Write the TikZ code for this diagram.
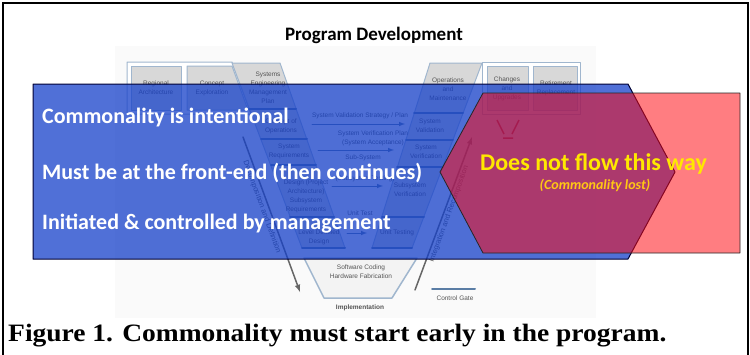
\documentclass[tikz,border=0pt]{standalone}
\usepackage{fontspec}
\setmainfont{Carlito}
\newfontfamily\figfont{Liberation Serif}
\newfontfamily\vfont{Liberation Sans}
\usepackage{tkz-euclide}

\definecolor{boxgray}{RGB}{216,216,216}
\definecolor{framebl}{RGB}{160,182,206}
\definecolor{gatebl}{RGB}{90,125,165}
\definecolor{vtext}{RGB}{85,85,85}
\definecolor{overblue}{RGB}{21,64,201}
\definecolor{overred}{RGB}{255,10,17}
\definecolor{flowyel}{RGB}{255,232,0}
\definecolor{lostyel}{RGB}{255,200,20}

\tikzset{
  vlbl/.style={font=\vfont\fontsize{6.5}{9}\selectfont, text=vtext, align=center, inner sep=0pt},
  msg/.style={font=\bfseries\fontsize{22}{26}\selectfont, text=white, anchor=base west, inner sep=0pt},
  vbox/.style={fill=boxgray, draw=framebl, line width=1pt},
  gate/.style={gatebl, line width=2pt},
  plan/.style={-latex, gatebl, line width=1pt},
  flow/.style={-latex, black!60, line width=1.5pt},
}

\begin{document}
\begin{tikzpicture}[x=1pt,y=-1pt]
	\useasboundingbox (0,0) rectangle (750,354);
	\draw[line width=1.8pt] (3,360) -- (3,3) -- (748,3) -- (748,360);
	\fill[black!2] (115,46) rectangle (596,318);
	
	\node[font=\bfseries\fontsize{19}{22}\selectfont, anchor=base] (title) at (374,40) {Program Development};
	
	% V model
	\tkzDefPoints{127/62/T1, 232/62/T2, 251/114/T3, 127/114/T4}
	\tkzDefPoints{131/66/P1, 181/66/P2, 181/110/P3, 131/110/P4}
	\tkzDefPoints{187/66/Q1, 232/66/Q2, 248/110/Q3, 187/110/Q4}
	\tkzDefPoints{232/63/L1, 280/63/L2, 345/248/L3, 302/248/L4}
	\tkzDefPoints{430/63/R1, 482/63/R2, 412/248/R3, 372/248/R4}
	\tkzDefPoints{482/62/U1, 580/62/U2, 580/114/U3, 482/114/U4}
	\tkzDefPoints{487/66/C1, 528/66/C2, 528/110/C3, 487/110/C4}
	\tkzDefPoints{533/66/E1, 577/66/E2, 577/110/E3, 533/110/E4}
	\tkzDefPoints{304/258/S1, 417/258/S2, 392/298/S3, 324/298/S4}
	
	\tkzDrawPolygon[fill=white, draw=framebl, line width=1pt](T1,T2,T3,T4)
	\tkzDrawPolygon[vbox](P1,P2,P3,P4)
	\tkzDrawPolygon[vbox](Q1,Q2,Q3,Q4)
	\tkzDrawPolygon[vbox](L1,L2,L3,L4)
	\tkzDrawPolygon[vbox](R1,R2,R3,R4)
	\tkzDrawPolygon[fill=white, draw=framebl, line width=1pt](U1,U2,U3,U4)
	\tkzDrawPolygon[vbox](C1,C2,C3,C4)
	\tkzDrawPolygon[vbox](E1,E2,E3,E4)
	\tkzDrawPolygon[fill=boxgray!30, draw=framebl, line width=1.5pt](S1,S2,S3,S4)
	
	\tkzDefPoints{249/109/La1, 296/109/La2, 261/139/Lb1, 307/139/Lb2, 271/165/Lc1, 316/165/Lc2, 290/217/Ld1, 334/217/Ld2, 302/248/Le1, 345/248/Le2}
	\tkzDefPoints{414/113/Ra1, 463/113/Ra2, 406/140/Rb1, 453/140/Rb2, 397/167/Rc1, 443/167/Rc2, 382/217/Rd1, 424/217/Rd2, 372/248/Re1, 412/248/Re2}
	\tkzDrawSegments[gate](La1,La2 Lb1,Lb2 Lc1,Lc2 Ld1,Ld2 Le1,Le2)
	\tkzDrawSegments[gate](Ra1,Ra2 Rb1,Rb2 Rc1,Rc2 Rd1,Rd2 Re1,Re2)
	
	\tkzDefPoints{312/124/A1, 405/124/A2, 318/150/A3, 394/150/A4, 332/186/A5, 383/186/A6, 347/233/A7, 367/233/A8}
	\tkzDrawSegments[plan](A1,A2 A3,A4 A5,A6 A7,A8)
	
	\tkzDefPoints{243/137/D1, 300/292/D2, 415/290/I1, 472/137/I2}
	\tkzDrawSegment[flow](D1,D2)
	\tkzDrawSegment[flow](I1,I2)
	
	\tkzDefPoints{432/289/G1, 475/289/G2}
	\tkzDrawSegment[gate](G1,G2)
	
	\draw[red!75!black, line width=1.5pt] (497,120) -- (504,134) (519,120) -- (512,134) (503,138) -- (513,138);
	
	\node[vlbl] (regarch) at (156,88) {Regional\\Architecture};
	\node[vlbl] (conexp) at (212,88) {Concept\\Exploration};
	\node[vlbl] (semp) at (268,88) {Systems\\Engineering\\Management\\Plan};
	\node[vlbl] (conops) at (281,126) {Concept of\\Operations};
	\node[vlbl] (sysreq) at (289,151) {System\\Requirements};
	\node[vlbl] (hld) at (306,196) {Design (Project\\Architecture)\\Subsystem\\Requirements};
	\node[vlbl] (detdes) at (319,237) {Level Detailed\\Design};
	\node[vlbl] (opmaint) at (448,89) {Operations\\and\\Maintenance};
	\node[vlbl] (sysval) at (430,126) {System\\Validation};
	\node[vlbl] (sysver) at (426,152) {System\\Verification};
	\node[vlbl] (subver) at (410,190) {Subsystem\\Verification};
	\node[vlbl] (unittest) at (397,233) {Unit Testing};
	\node[vlbl] (changes) at (507,89) {Changes\\and\\Upgrades};
	\node[vlbl] (retire) at (556,88) {Retirement\\Replacement};
	\node[vlbl] (valplan) at (360,116) {System Validation Strategy / Plan};
	\node[vlbl] (verplan) at (373,138) {System Verification Plan\\(System Acceptance)};
	\node[vlbl] (subplan) at (363,158) {Sub-System};
	\node[vlbl] (subtest) at (365,179) {(Subsystem Testing)};
	\node[vlbl] (utplan) at (360,213) {Unit Test};
	\node[vlbl] (coding) at (361,272) {Software Coding\\Hardware Fabrication};
	\node[vlbl, font=\vfont\bfseries\fontsize{6.5}{8}\selectfont] (impl) at (360,308) {Implementation};
	\node[vlbl] (ctrlgate) at (455,298) {Control Gate};
	\node[vlbl, font=\vfont\fontsize{7.5}{9}\selectfont, rotate=-70] (decomp) at (262,207) {Decomposition and Definition};
	\node[vlbl, font=\vfont\fontsize{7.5}{9}\selectfont, rotate=70] (integ) at (449,214) {Integration and Recomposition};
	
	% overlays
	\tkzDefPoints{33/84/B1, 628/84/B2, 675/172/B3, 628/259/B4, 33/259/B5}
	\tkzDefPoints{440/172/F1, 483/93/F2, 740/93/F3, 740/253/F4, 483/253/F5}
	\tkzDrawPolygon[fill=overblue, fill opacity=.75, draw=black!80!blue, line width=1pt](B1,B2,B3,B4,B5)
	\tkzDrawPolygon[fill=overred, fill opacity=.53, draw=black!85, line width=.8pt](F1,F2,F3,F4,F5)
	
	\node[msg] (intent) at (42,123) {Commonality is intentional};
	\node[msg] (frontend) at (42,179) {Must be at the front-end (then continues)};
	\node[msg] (mgmt) at (42,229) {Initiated \& controlled by management};
	\node[font=\bfseries\fontsize{24}{28}\selectfont, text=flowyel, anchor=base west, inner sep=0pt] (noflow) at (480,170) {Does not flow this way};
	\node[font=\bfseries\itshape\fontsize{14}{16}\selectfont, text=lostyel, anchor=base, inner sep=0pt] (lost) at (595,189) {(Commonality lost)};
	
	\node[font=\figfont\bfseries\fontsize{25}{28}\selectfont, anchor=base west, inner sep=0pt, xscale=1.1] (caption) at (8,341) {Figure 1. Commonality must start early in the program.};
\end{tikzpicture}
\end{document}
